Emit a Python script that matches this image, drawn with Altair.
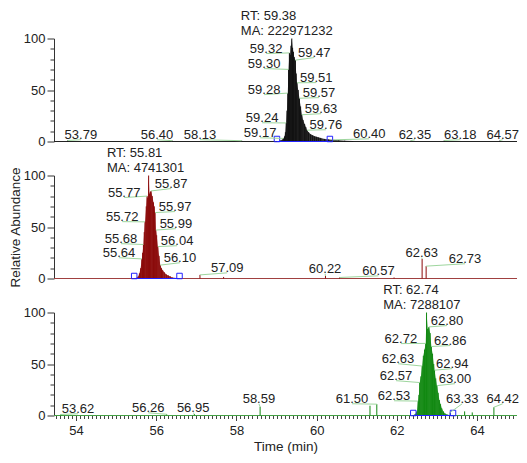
import altair as alt
import numpy as np
import pandas as pd

FONT = "Liberation Sans"
TXT = "#222222"
X_DOMAIN = [53.45, 64.996]

# ---------------- panel 1 (black trace) ----------------
p1_t = [59.00, 59.05, 59.10, 59.14, 59.17, 59.20, 59.22, 59.24, 59.26, 59.28, 59.30, 59.32,
        59.34, 59.36, 59.38, 59.40, 59.42, 59.44, 59.47, 59.49, 59.51, 59.54, 59.57, 59.60,
        59.63, 59.66, 59.70, 59.73, 59.76, 59.80, 59.85, 59.90, 59.95, 60.00, 60.05, 60.10,
        60.20, 60.30, 60.40, 60.55, 60.70, 60.90]
p1_v = [0.3, 0.5, 1.0, 1.8, 3.0, 5.0, 9.0, 18.0, 30.0, 47.0, 70.0, 86.0,
        84.0, 93.0, 100.0, 91.0, 87.0, 82.0, 79.0, 66.0, 57.0, 50.0, 42.0, 34.0,
        26.0, 21.0, 17.0, 14.0, 11.0, 9.0, 7.0, 6.0, 5.0, 4.5, 4.0, 3.5,
        2.5, 2.0, 1.6, 1.2, 0.8, 0.4]
p1_spike_t = [53.79, 56.40, 58.13, 62.35, 63.18, 64.57]
p1_spike_v = [1.0, 0.8, 0.8, 0.8, 1.0, 1.0]
p1_lab_rt = [53.79, 56.40, 58.13, 59.17, 59.24, 59.28, 59.30, 59.32, 59.47, 59.51, 59.57,
             59.63, 59.76, 60.40, 62.35, 63.18, 64.57]
p1_lab_pv = [1.0, 0.8, 0.8, 3.0, 18, 47, 70, 86, 79, 57, 42, 26, 11, 1.6, 0.8, 1.0, 1.0]
p1_lab_x = [54.12, 56.02, 57.09, 58.59, 58.64, 58.69, 58.69, 58.74, 59.94, 59.99, 60.06,
            60.11, 60.23, 61.31, 62.45, 63.58, 64.64]
p1_lab_y = [1.7, 1.7, 1.7, 3.6, 18.2, 45.5, 70.8, 85.4, 81.5, 57.2, 42.6, 27.0, 11.4, 2.6,
            1.7, 1.7, 1.7]
p1_rt_text = "RT: 59.38\nMA: 222971232"
p1_rt_x = 58.11
p1_marks = [59.01, 60.33]

# ---------------- panel 2 (red trace) ----------------
p2_t = [55.45, 55.50, 55.55, 55.58, 55.61, 55.64, 55.66, 55.68, 55.70, 55.72, 55.75, 55.77,
        55.79, 55.81, 55.83, 55.85, 55.87, 55.90, 55.93, 55.95, 55.97, 55.99, 56.01, 56.04,
        56.07, 56.10, 56.13, 56.16, 56.20, 56.25, 56.30, 56.35, 56.40, 56.50]
p2_v = [0.3, 0.6, 2, 5, 10, 19, 25, 33, 45, 55, 70, 80,
        78, 100, 82, 84, 85, 80, 74, 70, 64, 47, 42, 31,
        22, 13, 10, 8, 6, 4, 3, 2, 1, 0.5]
p2_spike_t = [57.09, 57.68, 60.22, 60.57, 61.93, 62.63, 62.73]
p2_spike_v = [3.5, 1.5, 2.5, 1.0, 1.0, 19, 12]
p2_lab_rt = [55.64, 55.68, 55.72, 55.77, 55.87, 55.97, 55.99, 56.04, 56.10, 57.09, 60.22,
             60.57, 62.63, 62.73]
p2_lab_pv = [19, 33, 55, 80, 85, 64, 47, 31, 13, 3.5, 2.5, 1.0, 19, 12]
p2_lab_x = [55.07, 55.12, 55.15, 55.20, 56.37, 56.47, 56.49, 56.52, 56.59, 57.77, 60.21,
            61.54, 62.62, 63.70]
p2_lab_y = [20.2, 33.8, 55.2, 78.6, 87.3, 65.0, 48.4, 31.8, 15.3, 5.5, 4.6, 2.6, 20.2, 14.3]
p2_rt_text = "RT: 55.81\nMA: 4741301"
p2_rt_x = 54.77
p2_marks = [55.45, 56.58]

# ---------------- panel 3 (green trace) ----------------
p3_t = [62.40, 62.45, 62.50, 62.53, 62.55, 62.57, 62.60, 62.63, 62.66, 62.69, 62.72, 62.74,
        62.77, 62.80, 62.83, 62.86, 62.89, 62.92, 62.94, 62.97, 63.00, 63.03, 63.06, 63.09,
        63.12, 63.16, 63.20, 63.25, 63.30, 63.38]
p3_v = [0.3, 1.0, 4, 14, 20, 32, 38, 48, 58, 64, 70, 100,
        84, 86, 80, 67, 60, 50, 44, 36, 29, 22, 15, 11,
        7, 4, 2, 1, 0.5, 0.3]
p3_spike_t = [53.62, 56.26, 56.95, 58.59, 61.33, 61.50, 63.33, 63.69, 63.88, 64.42]
p3_spike_v = [1.0, 1.2, 1.5, 8.5, 9.5, 11, 3, 4, 3, 8]
p3_lab_rt = [53.62, 56.26, 56.95, 58.59, 61.50, 62.53, 62.57, 62.63, 62.72, 62.80, 62.86,
             62.94, 63.00, 63.33, 64.42]
p3_lab_pv = [1.0, 1.2, 1.5, 8.5, 11, 14, 32, 48, 70, 86, 67, 44, 29, 3, 8]
p3_lab_x = [54.05, 55.80, 56.92, 58.56, 60.88, 61.93, 61.98, 62.03, 62.10, 63.25, 63.33,
            63.38, 63.45, 63.63, 64.64]
p3_lab_y = [1.7, 2.6, 2.6, 11.4, 11.4, 14.3, 33.8, 50.3, 69.8, 87.3, 67.9, 45.5, 30.9,
            11.4, 11.4]
p3_rt_text = "RT: 62.74\nMA: 7288107"
p3_rt_x = 61.66
p3_marks = [62.41, 63.40]

x_tick_values = np.round(np.arange(53.5, 64.95, 0.1), 1).tolist()


def panel(t, v, spike_t, spike_v, lab_rt, lab_pv, lab_x, lab_y, rt_text, rt_x, marks,
          fill, base, x_axis, y_title):
    xs = alt.Scale(domain=X_DOMAIN, nice=False, zero=False)
    ys = alt.Scale(domain=[0, 100], nice=False)
    y_axis = alt.Axis(
        values=list(range(0, 101, 10)),
        labelExpr="datum.value % 50 === 0 ? datum.label : ''",
        tickSize={"condition": {"test": "datum.value % 50 === 0", "value": 7}, "value": 4},
        labelFont=FONT, labelFontSize=13, labelColor=TXT, labelPadding=2,
        tickColor="#333333", domainColor="#333333", grid=False,
        title=y_title, titleFont=FONT, titleFontSize=13.5, titleFontWeight="normal",
        titleColor=TXT, titlePadding=1,
    )

    def X(f):
        return alt.X(f, type="quantitative", scale=xs, axis=x_axis)

    def Y(f):
        return alt.Y(f, type="quantitative", scale=ys, axis=y_axis)

    peak = pd.DataFrame({"t": t, "v": v, "z": 0})
    spikes = pd.DataFrame({"t": spike_t, "v": spike_v, "z": 0})
    labels = pd.DataFrame({"pt": lab_rt, "pv": lab_pv, "t": lab_x, "v": lab_y,
                           "label": [f"{r:.2f}" for r in lab_rt]})
    rt = pd.DataFrame({"t": [rt_x], "v": [100], "label": [rt_text]})
    integ = pd.DataFrame({"t": marks, "v": [0, 0]})
    integ_line = pd.DataFrame({"t": [marks[0]], "t2": [marks[1]], "v": [0]})

    base_rule = alt.Chart(pd.DataFrame({"v": [0]})).mark_rule(
        color=base, strokeWidth=1).encode(y=Y("v"))
    area = alt.Chart(peak).mark_area(color=fill, opacity=0.85).encode(x=X("t"), y=Y("v"))
    sticks = alt.Chart(peak).mark_rule(color=fill, strokeWidth=1).encode(
        x=X("t"), y=Y("v"), y2="z")
    spk = alt.Chart(spikes).mark_rule(color=fill, strokeWidth=1).encode(
        x=X("t"), y=Y("v"), y2="z")
    bl = alt.Chart(integ_line).mark_rule(color="#2222ff", strokeWidth=1).encode(
        x=X("t"), x2="t2", y=Y("v"))
    sq = alt.Chart(integ).mark_point(shape="square", filled=False, color="#2222ff",
                                     size=30, strokeWidth=1, opacity=1, yOffset=-2.5).encode(
        x=X("t"), y=Y("v"))
    leaders = alt.Chart(labels).mark_rule(color="#9ed69e", strokeWidth=1).encode(
        x=X("pt"), y=Y("pv"), x2="t", y2="v")
    texts = alt.Chart(labels).mark_text(font=FONT, fontSize=13, color=TXT, align="center",
                                        baseline="alphabetic", dy=-1).encode(
        x=X("t"), y=Y("v"), text="label:N")
    rtt = alt.Chart(rt).mark_text(font=FONT, fontSize=13, color=TXT, align="left",
                                  baseline="alphabetic", lineBreak="\n", lineHeight=15.5,
                                  dy=-19).encode(x=X("t"), y=Y("v"), text="label:N")
    return alt.layer(base_rule, area, sticks, spk, bl, sq, leaders, texts, rtt).properties(
        width=463, height=103)


x_axis3 = alt.Axis(
    values=x_tick_values,
    labelExpr="round(datum.value*10) % 20 === 0 ? format(datum.value, 'd') : ''",
    tickSize={"condition": {"test": "round(datum.value*10) % 20 === 0", "value": 5},
              "value": 3},
    labelOverlap=False, labelFlush=False, domain=False, grid=False,
    tickColor="#444444", labelFont=FONT, labelFontSize=13, labelColor=TXT, labelPadding=4,
    title="Time (min)", titleFont=FONT, titleFontSize=13.5, titleFontWeight="normal",
    titleColor=TXT, titlePadding=2,
)

c1 = panel(p1_t, p1_v, p1_spike_t, p1_spike_v, p1_lab_rt, p1_lab_pv, p1_lab_x, p1_lab_y,
           p1_rt_text, p1_rt_x, p1_marks, "#111111", "#222222", None, None)
c2 = panel(p2_t, p2_v, p2_spike_t, p2_spike_v, p2_lab_rt, p2_lab_pv, p2_lab_x, p2_lab_y,
           p2_rt_text, p2_rt_x, p2_marks, "#8b0a0a", "#a04040", None, "Relative Abundance")
c3 = panel(p3_t, p3_v, p3_spike_t, p3_spike_v, p3_lab_rt, p3_lab_pv, p3_lab_x, p3_lab_y,
           p3_rt_text, p3_rt_x, p3_marks, "#118811", "#44a044", x_axis3, None)

chart = alt.vconcat(c1, c2, c3, spacing=34, bounds="flush").configure_view(
    stroke=None).properties(
    padding={"left": 0, "right": 0, "top": 1.5, "bottom": 0}, background="white")

chart.save("out.html", embed_options={"renderer": "svg", "actions": False})
